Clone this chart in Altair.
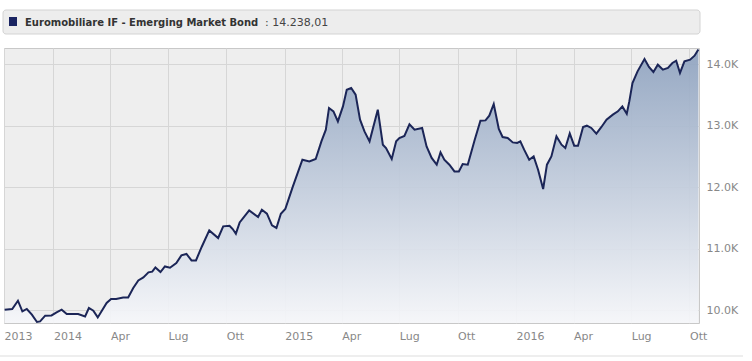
import altair as alt
import pandas as pd

# ---- data ----
dates = [
    "2013-10-16", "2013-10-28", "2013-11-06", "2013-11-13", "2013-11-20", "2013-11-28", "2013-12-06", "2013-12-11", "2013-12-19", "2013-12-29",
    "2014-01-06", "2014-01-14", "2014-01-22", "2014-02-09", "2014-02-20", "2014-02-26", "2014-03-05", "2014-03-12", "2014-03-26", "2014-04-02",
    "2014-04-10", "2014-04-21", "2014-04-29", "2014-05-07", "2014-05-15", "2014-05-23", "2014-05-31", "2014-06-06", "2014-06-11", "2014-06-19",
    "2014-06-26", "2014-07-04", "2014-07-14", "2014-07-22", "2014-07-30", "2014-08-07", "2014-08-14", "2014-08-23", "2014-09-04", "2014-09-18",
    "2014-09-26", "2014-10-06", "2014-10-11", "2014-10-16", "2014-10-22", "2014-11-06", "2014-11-20", "2014-11-26", "2014-12-04", "2014-12-12",
    "2014-12-19", "2014-12-26", "2015-01-02", "2015-01-14", "2015-01-29", "2015-02-09", "2015-02-19", "2015-02-28", "2015-03-07", "2015-03-12",
    "2015-03-19", "2015-03-26", "2015-04-03", "2015-04-09", "2015-04-16", "2015-04-23", "2015-04-30", "2015-05-07", "2015-05-15", "2015-05-28",
    "2015-06-05", "2015-06-10", "2015-06-19", "2015-06-26", "2015-07-01", "2015-07-09", "2015-07-17", "2015-07-25", "2015-08-06", "2015-08-13",
    "2015-08-21", "2015-08-29", "2015-09-04", "2015-09-10", "2015-09-18", "2015-09-26", "2015-10-03", "2015-10-09", "2015-10-17", "2015-10-28",
    "2015-11-06", "2015-11-14", "2015-11-20", "2015-11-27", "2015-12-05", "2015-12-11", "2015-12-19", "2015-12-27", "2016-01-03", "2016-01-08",
    "2016-01-14", "2016-01-22", "2016-01-29", "2016-02-05", "2016-02-13", "2016-02-19", "2016-02-26", "2016-03-05", "2016-03-13", "2016-03-19",
    "2016-03-26", "2016-04-02", "2016-04-08", "2016-04-16", "2016-04-22", "2016-04-29", "2016-05-07", "2016-05-15", "2016-05-23", "2016-06-02",
    "2016-06-10", "2016-06-17", "2016-06-24", "2016-06-28", "2016-07-03", "2016-07-11", "2016-07-22", "2016-07-29", "2016-08-05", "2016-08-12",
    "2016-08-20", "2016-08-28", "2016-09-04", "2016-09-10", "2016-09-16", "2016-09-23", "2016-10-02", "2016-10-09", "2016-10-15",
]
values = [
    10008, 10020, 10154, 9980, 10020, 9927, 9808, 9818, 9911, 9915,
    9964, 10008, 9938, 9938, 9899, 10036, 9992, 9883, 10117, 10182,
    10182, 10208, 10208, 10361, 10485, 10533, 10615, 10626, 10696, 10621,
    10712, 10691, 10767, 10891, 10914, 10810, 10810, 11028, 11298, 11174,
    11363, 11374, 11320, 11244, 11426, 11623, 11515, 11634, 11569, 11379,
    11337, 11569, 11646, 12013, 12447, 12419, 12458, 12745, 12935, 13288,
    13233, 13070, 13314, 13585, 13613, 13504, 13098, 12907, 12745, 13260,
    12691, 12637, 12459, 12745, 12800, 12832, 13021, 12935, 12963, 12663,
    12475, 12366, 12566, 12447, 12366, 12257, 12257, 12377, 12366, 12772,
    13081, 13086, 13163, 13353, 12946, 12816, 12800, 12728, 12719, 12745,
    12610, 12447, 12501, 12285, 11971, 12366, 12501, 12826, 12691, 12637,
    12875, 12675, 12675, 12979, 13000, 12963, 12870, 12979, 13098, 13179,
    13233, 13314, 13195, 13395, 13694, 13883, 14085, 13954, 13873, 13992,
    13911, 13938, 14019, 14057, 13857, 14046, 14073, 14138, 14238.01,
]
series_name = "Euromobiliare IF - Emerging Market Bond"
last_value_text = ": 14.238,01"
y_ticks = [10000, 11000, 12000, 13000, 14000]
x_start = (2013, 10, 15)
x_end = (2016, 10, 16)
quarter_ticks = [(y, m) for y in (2014, 2015, 2016) for m in (1, 4, 7, 10)]

df = pd.DataFrame({"date": dates, "value": values})

NAVY = "#1b2557"
FONT = "DejaVu Sans"
y_min, y_max = 9792, 14263

x_values = [alt.DateTime(year=x_start[0], month=x_start[1], date=x_start[2])] + [
    alt.DateTime(year=y, month=m, date=1) for (y, m) in quarter_ticks
]

x = alt.X(
    "date:T",
    scale=alt.Scale(domain=[alt.DateTime(year=x_start[0], month=x_start[1], date=x_start[2]),
                            alt.DateTime(year=x_end[0], month=x_end[1], date=x_end[2])]),
    axis=alt.Axis(
        values=x_values,
        labelExpr="year(datum.value) == 2013 ? '2013' : (month(datum.value) == 0 ? timeFormat(datum.value, '%Y') : (month(datum.value) == 3 ? 'Apr' : (month(datum.value) == 6 ? 'Lug' : 'Ott')))",
        labelAlign="left",
        labelPadding=7,
        labelFlush=False,
        labelOverlap=False,
        labelBound=False,
        ticks=False,
        domain=False,
        grid=True,
        gridColor="#d6d6d6",
        title=None,
    ),
)
y = alt.Y(
    "value:Q",
    scale=alt.Scale(domain=[y_min, y_max], nice=False, zero=False),
    axis=alt.Axis(
        orient="right",
        values=y_ticks,
        labelExpr="format(datum.value / 1000, '.1f') + 'K'",
        labelPadding=7,
        labelBaseline="middle",
        ticks=False,
        domain=False,
        grid=True,
        gridColor="#d6d6d6",
        title=None,
    ),
)

gradient = alt.Gradient(
    gradient="linear",
    stops=[alt.GradientStop(color="#8ea2bf", offset=0), alt.GradientStop(color="#f6f7fa", offset=1)],
    x1=1, x2=1, y1=0, y2=1,
)

area = alt.Chart(df).mark_area(color=gradient, opacity=0.92).encode(x=x, y=y, y2=alt.datum(y_min))
line = alt.Chart(df).mark_line(color=NAVY, strokeWidth=2).encode(x=x, y=y)

one = alt.Data(values=[{"k": 1}])
title_box = alt.Chart(one).mark_rect(fill="#ededed", stroke="#d3d3d3", cornerRadius=3).encode(
    x=alt.value(-1), x2=alt.value(696), y=alt.value(-38), y2=alt.value(-14)
)
square = alt.Chart(one).mark_rect(fill="#1a2462").encode(
    x=alt.value(5), x2=alt.value(13), y=alt.value(-31), y2=alt.value(-22)
)
title_bold = alt.Chart(one).mark_text(
    text=series_name, font=FONT, fontSize=10, fontWeight="bold", color="#333333",
    align="left", baseline="alphabetic",
).encode(x=alt.value(21), y=alt.value(-22))
title_val = alt.Chart(one).mark_text(
    text=last_value_text, font=FONT, fontSize=11, color="#444444",
    align="left", baseline="alphabetic",
).encode(x=alt.value(261), y=alt.value(-22))
bottom_rule = alt.Chart(one).mark_rule(color="#dddddd", strokeWidth=1).encode(
    x=alt.value(-4), x2=alt.value(739), y=alt.value(308)
)

chart = alt.layer(area, line, title_box, square, title_bold, title_val, bottom_rule).properties(
    width=695,
    height=275,
    padding={"left": 4, "top": 48, "right": 53, "bottom": 38},
    autosize=alt.AutoSizeParams(type="none"),
    background="white",
).configure_view(
    fill="#eeeeee", stroke="#c8c8c8"
).configure_axis(
    labelFont=FONT, labelFontSize=11, labelColor="#888888"
)

chart.save("out.html", embed_options={"renderer": "svg", "actions": False})
